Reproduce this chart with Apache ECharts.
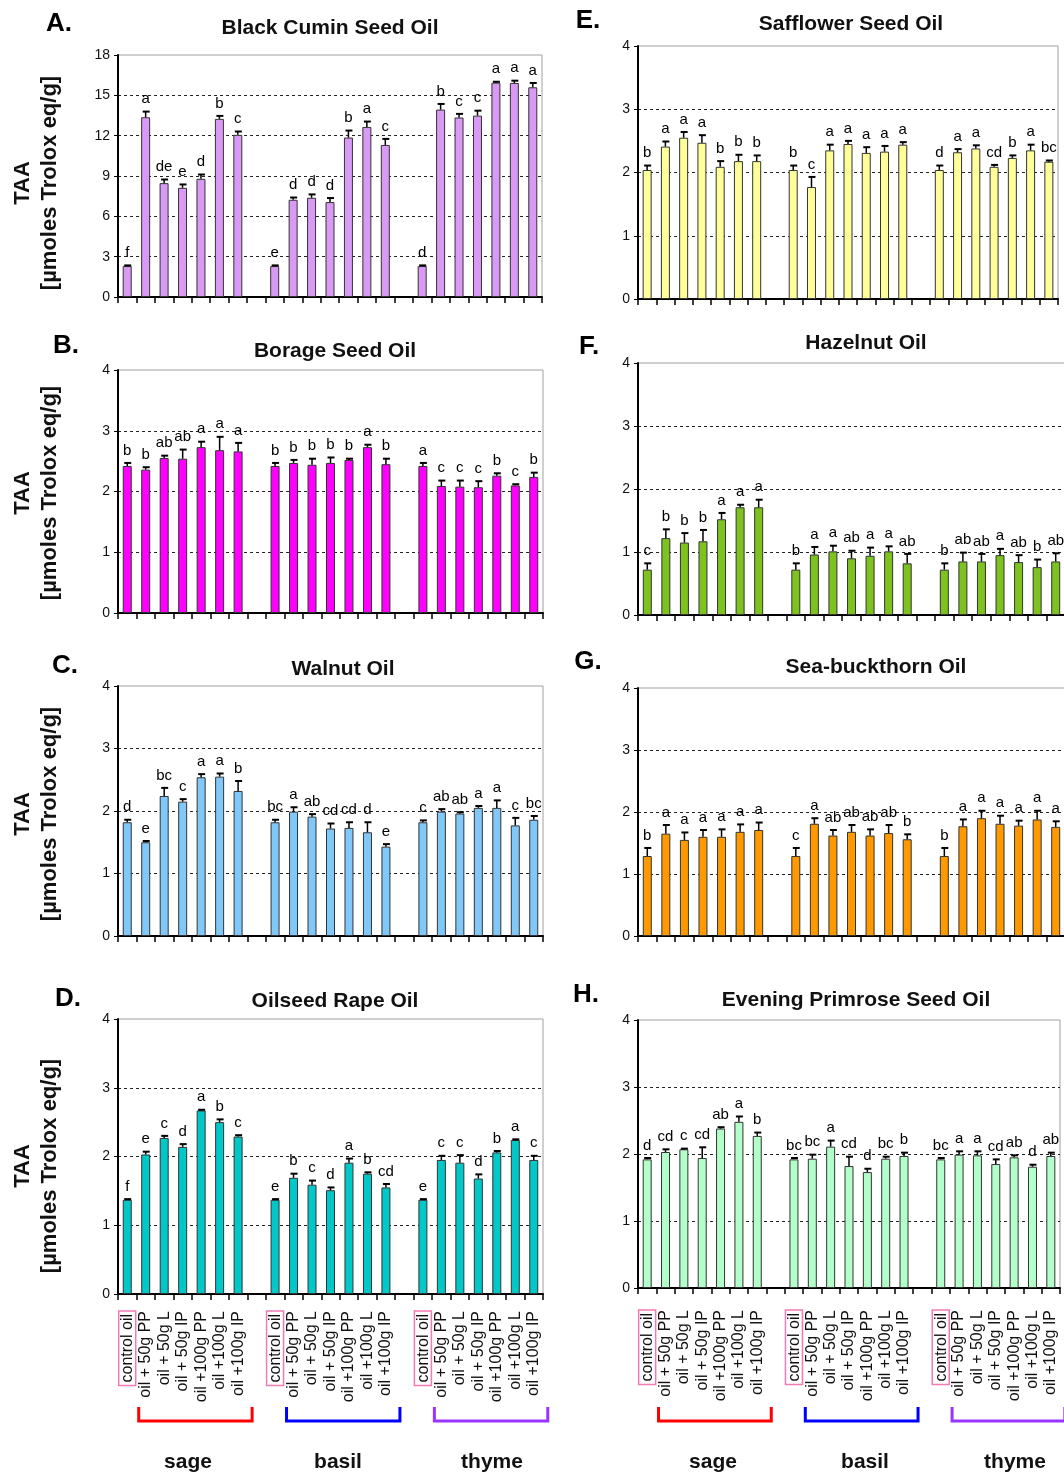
<!DOCTYPE html>
<html><head><meta charset="utf-8">
<script src="https://cdn.jsdelivr.net/npm/echarts@6/dist/echarts.min.js"></script>
<style>html,body{margin:0;padding:0;background:#fff}#c{width:1064px;height:1475px}</style>
</head><body><div id="c"></div>
<script>
// ---------- data ----------
const treatments = ['control oil','oil + 50g PP','oil + 50g L','oil + 50g IP','oil +100g PP','oil +100g L','oil +100g IP'];
const herbs = ['sage','basil','thyme'];

const blackCuminTAA = [2.30,13.37,8.47,8.12,8.79,13.25,12.06, 2.30,7.23,7.38,7.06,11.86,12.65,11.31, 2.30,13.94,13.35,13.49,15.94,15.92,15.60];
const blackCuminSD  = [0.05,0.42,0.27,0.25,0.32,0.22,0.25, 0.05,0.17,0.25,0.30,0.52,0.40,0.45, 0.05,0.42,0.27,0.37,0.07,0.17,0.32];
const blackCuminSig = ['f','a','de','e','d','b','c', 'e','d','d','d','b','a','c', 'd','b','c','c','a','a','a'];

const borageTAA = [2.42,2.36,2.55,2.54,2.73,2.68,2.66, 2.42,2.47,2.44,2.47,2.52,2.73,2.45, 2.42,2.09,2.08,2.07,2.26,2.10,2.24];
const borageSD  = [0.05,0.04,0.04,0.15,0.09,0.22,0.14, 0.05,0.05,0.10,0.09,0.02,0.04,0.09, 0.05,0.09,0.10,0.10,0.04,0.02,0.07];
const borageSig = ['b','b','ab','ab','a','a','a', 'b','b','b','b','b','a','b', 'a','c','c','c','b','c','b'];

const walnutTAA = [1.82,1.50,2.24,2.15,2.54,2.55,2.32, 1.82,1.99,1.91,1.72,1.73,1.66,1.43, 1.82,1.99,1.96,2.05,2.05,1.77,1.86];
const walnutSD  = [0.04,0.02,0.13,0.04,0.05,0.05,0.16, 0.04,0.07,0.04,0.08,0.09,0.16,0.04, 0.03,0.04,0.02,0.03,0.12,0.12,0.06];
const walnutSig = ['d','e','bc','c','a','a','b', 'bc','a','ab','cd','cd','d','e', 'c','ab','ab','a','a','c','bc'];

const rapeTAA = [1.37,2.03,2.27,2.14,2.67,2.50,2.29, 1.37,1.69,1.59,1.51,1.91,1.75,1.55, 1.37,1.95,1.91,1.68,2.06,2.24,1.95];
const rapeSD  = [0.01,0.04,0.03,0.04,0.01,0.04,0.02, 0.01,0.06,0.06,0.04,0.06,0.02,0.05, 0.01,0.06,0.11,0.06,0.02,0.01,0.06];
const rapeSig = ['f','e','c','d','a','b','c', 'e','b','c','d','a','b','cd', 'e','c','c','d','b','a','c'];

const safflowerTAA = [2.04,2.41,2.55,2.47,2.09,2.18,2.18, 2.04,1.77,2.35,2.45,2.31,2.33,2.44, 2.04,2.32,2.38,2.09,2.23,2.35,2.17];
const safflowerSD  = [0.07,0.08,0.09,0.12,0.09,0.10,0.09, 0.07,0.16,0.09,0.05,0.09,0.09,0.04, 0.07,0.05,0.05,0.03,0.04,0.09,0.02];
const safflowerSig = ['b','a','a','a','b','b','b', 'b','c','a','a','a','a','a', 'd','a','a','cd','b','a','bc'];

const hazelnutTAA = [0.72,1.22,1.15,1.17,1.52,1.71,1.71, 0.72,0.96,1.01,0.90,0.94,1.01,0.82, 0.72,0.85,0.85,0.95,0.84,0.76,0.85];
const hazelnutSD  = [0.10,0.14,0.15,0.18,0.10,0.04,0.12, 0.10,0.12,0.09,0.12,0.13,0.08,0.15, 0.10,0.14,0.12,0.10,0.11,0.12,0.13];
const hazelnutSig = ['c','b','b','b','a','a','a', 'b','a','a','ab','a','a','ab', 'b','ab','ab','a','ab','b','ab'];

const seaBuckthornTAA = [1.29,1.65,1.55,1.60,1.60,1.68,1.71, 1.29,1.81,1.62,1.68,1.62,1.66,1.56, 1.29,1.77,1.90,1.81,1.78,1.88,1.76];
const seaBuckthornSD  = [0.13,0.14,0.12,0.11,0.12,0.12,0.12, 0.13,0.09,0.09,0.11,0.10,0.13,0.08, 0.13,0.11,0.12,0.13,0.08,0.14,0.09];
const seaBuckthornSig = ['b','a','a','a','a','a','a', 'c','a','ab','ab','ab','ab','b', 'b','a','a','a','a','a','a'];

const primroseTAA = [1.92,2.03,2.07,1.94,2.38,2.48,2.27, 1.92,1.93,2.11,1.82,1.73,1.93,1.97, 1.92,1.99,1.98,1.85,1.95,1.81,1.97];
const primroseSD  = [0.02,0.04,0.01,0.16,0.02,0.08,0.05, 0.02,0.06,0.09,0.14,0.05,0.03,0.05, 0.02,0.05,0.06,0.07,0.03,0.03,0.05];
const primroseSig = ['d','cd','c','cd','ab','a','b', 'bc','bc','a','cd','d','bc','b', 'bc','a','a','cd','ab','d','ab'];

// ---------- layout ----------
const FONT = '"Liberation Sans", Arial, Helvetica, sans-serif';
const panels = [
  {tag:'A.', title:'Black Cumin Seed Oil', v:blackCuminTAA, e:blackCuminSD, s:blackCuminSig, color:'#d99af5', max:18, step:3,
   grid:{left:118, top:55, width:424, height:242}, tagPos:[59,24], titlePos:[330,28], yName:183},
  {tag:'B.', title:'Borage Seed Oil', v:borageTAA, e:borageSD, s:borageSig, color:'#ff00ff', max:4, step:1,
   grid:{left:118, top:370, width:425, height:243}, tagPos:[66,346], titlePos:[335,351], yName:493},
  {tag:'C.', title:'Walnut Oil', v:walnutTAA, e:walnutSD, s:walnutSig, color:'#80c8fa', max:4, step:1,
   grid:{left:118, top:686, width:425, height:250}, tagPos:[65,666], titlePos:[343,669], yName:814},
  {tag:'D.', title:'Oilseed Rape Oil', v:rapeTAA, e:rapeSD, s:rapeSig, color:'#00c8c8', max:4, step:1,
   grid:{left:118, top:1019, width:425, height:275}, tagPos:[68,999], titlePos:[335,1001], yName:1166, showX:true, margin:17,
   herbX:[188,338,492], bracketColors:['#ff0000','#0000ff','#9933ff']},
  {tag:'E.', title:'Safflower Seed Oil', v:safflowerTAA, e:safflowerSD, s:safflowerSig, color:'#ffff99', max:4, step:1,
   grid:{left:638, top:46, width:420, height:253}, tagPos:[588,21], titlePos:[851,24]},
  {tag:'F.', title:'Hazelnut Oil', v:hazelnutTAA, e:hazelnutSD, s:hazelnutSig, color:'#7dc21e', max:4, step:1,
   grid:{left:638, top:363, width:427, height:252}, tagPos:[589,347], titlePos:[866,343]},
  {tag:'G.', title:'Sea-buckthorn Oil', v:seaBuckthornTAA, e:seaBuckthornSD, s:seaBuckthornSig, color:'#ff9900', max:4, step:1,
   grid:{left:638, top:688, width:427, height:248}, tagPos:[588,662], titlePos:[876,667]},
  {tag:'H.', title:'Evening Primrose Seed Oil', v:primroseTAA, e:primroseSD, s:primroseSig, color:'#b3ffc9', max:4, step:1,
   grid:{left:638, top:1020, width:422, height:268}, tagPos:[586,995], titlePos:[856,1000], showX:true, margin:22,
   herbX:[713,865,1015], bracketColors:['#ff0000','#0000ff','#9933ff']}
];

// categories: 3 herb groups of 7 treatments, with an empty slot between groups
const categories = [];
const groupStart = [];
herbs.forEach((h, g) => {
  groupStart.push(categories.length);
  treatments.forEach(t => categories.push(t));
  if (g < herbs.length - 1) categories.push('');
});
const slotOf = [];
herbs.forEach((h, g) => treatments.forEach((t, k) => slotOf.push(groupStart[g] + k)));

const chart = echarts.init(document.getElementById('c'), null, {renderer:'canvas'});

const grids = [], xAxes = [], yAxes = [], series = [], graphics = [];
panels.forEach((p, i) => {
  grids.push(Object.assign({show:true, borderColor:'#a0a0a0', borderWidth:1, backgroundColor:'transparent',
    containLabel:false, outerBoundsMode:'none'}, p.grid));
  xAxes.push({
    type:'category', gridIndex:i, data:categories, boundaryGap:true,
    axisLine:{show:true, lineStyle:{color:'#000', width:2}},
    axisTick:{show:true, interval:0, length:6, lineStyle:{color:'#000', width:1.5}},
    axisLabel:{show:!!p.showX, interval:0, rotate:90, margin:p.margin || 10, fontSize:16, color:'#111', fontFamily:FONT,
      formatter: v => v === 'control oil' ? '{box|control oil}' : v,
      rich:{box:{borderColor:'#f27ab5', borderWidth:1.5, padding:[1,3,0,3], fontSize:16, color:'#111', fontFamily:FONT}}},
    splitLine:{show:false}
  });
  yAxes.push({
    type:'value', gridIndex:i, min:0, max:p.max, interval:p.step,
    axisLine:{show:true, lineStyle:{color:'#000', width:2}},
    axisTick:{show:true, length:4, lineStyle:{color:'#000', width:1}},
    axisLabel:{fontSize:14, color:'#111', margin:8, fontFamily:FONT},
    splitLine:{show:true, showMinLine:false, showMaxLine:false, lineStyle:{color:'#222', width:1, type:[3,3]}}
  });
  const barData = categories.map(() => '-');
  p.v.forEach((val, k) => { barData[slotOf[k]] = val; });
  series.push({
    type:'bar', xAxisIndex:i, yAxisIndex:i, data:barData, barWidth:9,
    itemStyle:{color:p.color, borderColor:'#333', borderWidth:1}, silent:true
  });
  const sig = p.s;
  series.push({
    type:'custom', xAxisIndex:i, yAxisIndex:i, silent:true, z:5,
    data:p.v.map((val, k) => [slotOf[k], val, p.e[k]]),
    renderItem:(params, api) => {
      const idx = api.value(0), val = api.value(1), err = api.value(2);
      const p0 = api.coord([idx, val]);
      const p1 = api.coord([idx, val + err]);
      const x = p0[0];
      return {type:'group', children:[
        {type:'line', shape:{x1:x, y1:p0[1], x2:x, y2:p1[1]}, style:{stroke:'#000', lineWidth:1.5}},
        {type:'line', shape:{x1:x-3, y1:p1[1], x2:x+4, y2:p1[1]}, style:{stroke:'#000', lineWidth:2}},
        {type:'text', x:x, y:p1[1]-5, style:{text:sig[params.dataIndex], font:'15px ' + FONT, fill:'#000',
          textAlign:'center', textVerticalAlign:'bottom', align:'center', verticalAlign:'bottom'}}
      ]};
    }
  });
  graphics.push({type:'text', x:p.tagPos[0], y:p.tagPos[1], style:{text:p.tag, font:'bold 26px ' + FONT, fill:'#000',
    textAlign:'center', textVerticalAlign:'middle'}});
  graphics.push({type:'text', x:p.titlePos[0], y:p.titlePos[1], style:{text:p.title, font:'bold 21px ' + FONT, fill:'#111',
    textAlign:'center', textVerticalAlign:'middle'}});
  if (p.yName) {
    graphics.push({type:'text', x:36, y:p.yName, rotation:Math.PI/2, style:{text:'TAA\n[µmoles Trolox eq/g]',
      font:'bold 22px ' + FONT, fill:'#111', lineHeight:27, textAlign:'center', textVerticalAlign:'middle'}});
  }
});

chart.setOption({animation:false, backgroundColor:'#fff', grid:grids, xAxis:xAxes, yAxis:yAxes, series:series});

// herb brackets and labels under panels D and H
panels.forEach((p, i) => {
  if (!p.showX) return;
  const cx = k => chart.convertToPixel({xAxisIndex:i}, k);
  herbs.forEach((h, g) => {
    const s = groupStart[g];
    const x1 = cx(s + 1) - 7, x2 = cx(s + 6) + 14;
    const y1 = 1407, y2 = 1421;
    graphics.push({type:'polyline', shape:{points:[[x1,y1],[x1,y2],[x2,y2],[x2,y1]]},
      style:{stroke:p.bracketColors[g], lineWidth:3, fill:null}});
    graphics.push({type:'text', x:p.herbX[g], y:1462, style:{text:h, font:'bold 21px ' + FONT, fill:'#111',
      textAlign:'center', textVerticalAlign:'middle'}});
  });
});
chart.setOption({graphic:graphics});
</script>
</body></html>
